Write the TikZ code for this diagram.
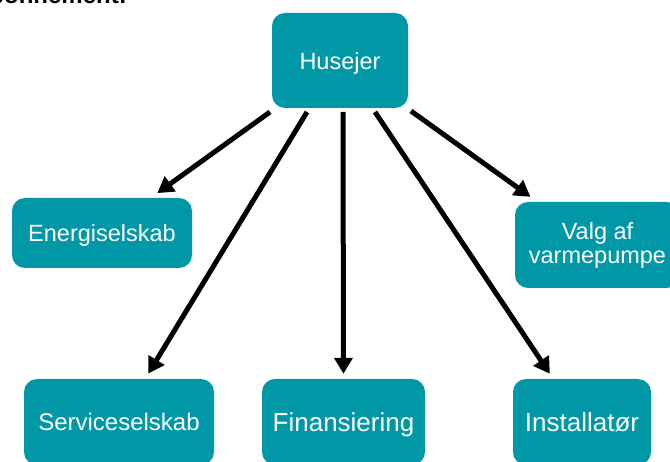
\documentclass[tikz,border=0pt]{standalone}
\usepackage{fontspec}
\setmainfont{Liberation Sans}
\usetikzlibrary{arrows.meta}
\definecolor{boxteal}{RGB}{0,151,167}
\tikzset{
    box/.style={fill=boxteal, rounded corners=13pt, text=white, align=center, inner sep=0pt},
    onebox/.style={box, text depth=0pt},
    arr/.style={line width=5pt, -{Triangle[length=16pt,width=18pt]}}
}
\newcommand{\txt}[1]{\fontsize{#1}{24}\selectfont}
\begin{document}
\begin{tikzpicture}[x=1pt,y=-1pt]
            \useasboundingbox (0,0) rectangle (670,462);
            \node [anchor=base east, inner sep=0pt, font=\bfseries\txt{24}] (titel) at (127,3.5) {Abonnement:};
            \node [onebox, minimum width=136pt, minimum height=95pt, font=\txt{23.5}] (husejer) at (340,60.5) {Husejer};
            \node [onebox, minimum width=180pt, minimum height=70pt, font=\txt{23.5}] (energi) at (102,233) {Energiselskab};
            \node [box, minimum width=165pt, minimum height=86pt, font=\txt{23.5}] (valg) at (597.5,245) {Valg af\\varmepumpe};
            \node [onebox, minimum width=190pt, minimum height=86pt, font=\txt{24}] (service) at (119,422) {Serviceselskab};
            \node [onebox, minimum width=163pt, minimum height=86pt, font=\txt{26}] (finans) at (343.5,422) {Finansiering};
            \node [onebox, minimum width=138pt, minimum height=86pt, font=\txt{26}] (install) at (582,422) {Installatør};
            \coordinate (s1) at (270,112);
            \coordinate (s2) at (307,112);
            \coordinate (s3) at (343,112);
            \coordinate (s4) at (375,112);
            \coordinate (s5) at (411,111);
            \draw [arr, shorten >=8pt] (s1) to (energi);
            \draw [arr, shorten >=6pt] (s2) to (service);
            \draw [arr, shorten >=5pt] (s3) to (finans.north);
            \draw [arr, shorten >=6pt] (s4) to (install);
            \draw [arr, shorten >=8.5pt] (s5) to (valg);
\end{tikzpicture}
\end{document}
